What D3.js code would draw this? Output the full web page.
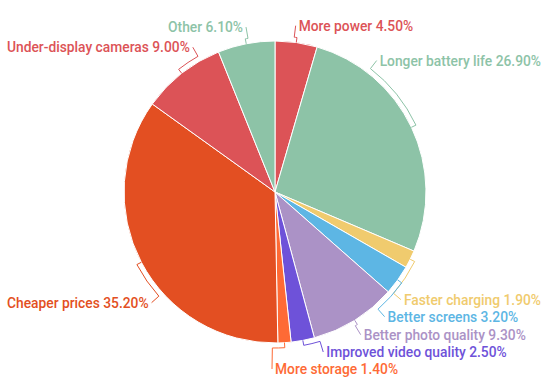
<!DOCTYPE html>
<html>
<head>
<meta charset="utf-8">
<script src="https://cdn.jsdelivr.net/npm/d3@7"></script>
<style>
  body { margin: 0; background: #fff; }
  text { font-family: Roboto, sans-serif; font-size: 13.8px; font-weight: 500; }
</style>
</head>
<body>
<div id="chart"></div>
<script>
const categories = ["More power", "Longer battery life", "Faster charging", "Better screens", "Better photo quality",
                    "Improved video quality", "More storage", "Cheaper prices", "Under-display cameras", "Other"];
const shares = [4.5, 26.9, 1.9, 3.2, 9.3, 2.5, 1.4, 35.2, 9.0, 6.1];
const colors = ["#dc5357", "#8dc3a7", "#f0cb6e", "#5db6e4", "#ab92c6",
                "#6e52d9", "#fe6a35", "#e34f22", "#dc5357", "#8dc3a7"];

const width = 548, height = 390;
const cx = 275, cy = 192, radius = 151;
const labelR = 168, margin = 7, rowGap = 17, tick = 5;

const svg = d3.select("#chart").append("svg")
              .attr("width", width)
              .attr("height", height);
const g = svg.append("g").attr("transform", `translate(${cx},${cy})`);

const data = categories.map((c, i) => ({ name: c, value: shares[i], color: colors[i] }));
const arcs = d3.pie().value(d => d.value).sort(null)(data);
const arc = d3.arc().innerRadius(0).outerRadius(radius);

g.selectAll(".slice")
 .data(arcs)
 .enter()
 .append("path")
 .attr("class", "slice")
 .attr("d", arc)
 .attr("fill", d => d.data.color)
 .attr("stroke", "#fff")
 .attr("stroke-width", 1);

const labels = g.selectAll(".label")
                .data(arcs)
                .enter()
                .append("text")
                .attr("class", "label")
                .attr("fill", d => d.data.color)
                .text(d => `${d.data.name} ${d.data.value.toFixed(2)}%`);

const onCircle = v => Math.sqrt(Math.max(0, labelR * labelR - v * v));
const xMax = width - margin - cx, xMin = margin - cx;

// first guess: on a circle at the mid angle, pulled back inside the frame
labels.each(function(d) {
    d.w = this.getComputedTextLength();
    d.mid = (d.startAngle + d.endAngle) / 2;
    d.right = d.mid < Math.PI;
    let x = labelR * Math.sin(d.mid), y = -labelR * Math.cos(d.mid);
    if (d.right && x + d.w > xMax) { x = xMax - d.w; y = Math.sign(y) * onCircle(x); }
    if (!d.right && x - d.w < xMin) { x = xMin + d.w; y = Math.sign(y) * onCircle(x); }
    d.ly = y;
});

// keep rows apart on each side, in slice order from top to bottom
[true, false].forEach(side => {
    const rows = arcs.filter(d => d.right === side)
                     .sort((a, b) => side ? a.mid - b.mid : b.mid - a.mid);
    for (let i = 1; i < rows.length; i++) rows[i].ly = Math.max(rows[i].ly, rows[i - 1].ly + rowGap);
    const last = rows[rows.length - 1];
    last.ly = Math.min(last.ly, height - 21 - cy);
    for (let i = rows.length - 2; i >= 0; i--) rows[i].ly = Math.min(rows[i].ly, rows[i + 1].ly - rowGap);
    rows.forEach(d => {
        let x = (d.right ? 1 : -1) * onCircle(d.ly);
        if (d.right) x = Math.min(x, xMax - d.w);
        else x = Math.max(x, xMin + d.w);
        d.lx = x;
    });
});

labels.attr("x", d => d.lx)
      .attr("y", d => d.ly + 5)
      .attr("text-anchor", d => d.right ? "start" : "end");

// bracket: short tick at the slice middle, arc along the rim, then to the label
function connector(d) {
    const ax = d.lx + (d.right ? -3 : 3), ay = d.ly;
    let la = Math.atan2(ax, -ay);
    if (la < 0) la += 2 * Math.PI;
    const p = d3.path();
    p.moveTo(radius * Math.sin(d.mid), -radius * Math.cos(d.mid));
    p.lineTo((radius + tick) * Math.sin(d.mid), -(radius + tick) * Math.cos(d.mid));
    p.arc(0, 0, radius + tick, d.mid - Math.PI / 2, la - Math.PI / 2, la < d.mid);
    p.lineTo(ax, ay);
    return p.toString();
}

g.selectAll(".leader")
 .data(arcs)
 .enter()
 .append("path")
 .attr("class", "leader")
 .attr("d", connector)
 .attr("fill", "none")
 .attr("stroke", d => d.data.color)
 .attr("stroke-width", 1);
</script>
</body>
</html>
